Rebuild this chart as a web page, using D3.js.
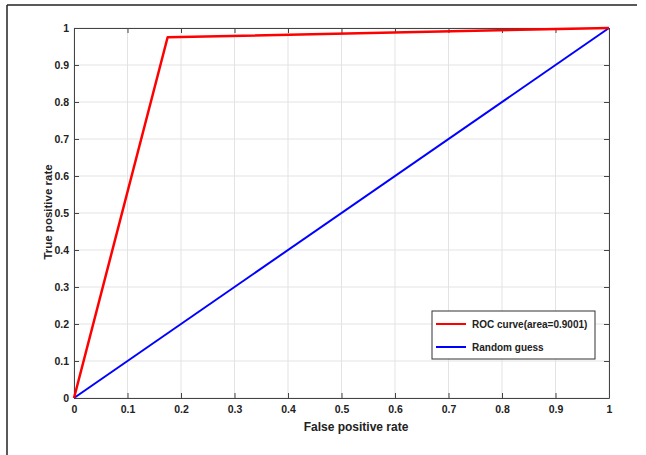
<!DOCTYPE html>
<html>
<head>
<meta charset="utf-8">
<script src="https://cdn.jsdelivr.net/npm/d3@7"></script>
<style>
  body { margin: 0; background: #fff; }
  text { font-family: "Liberation Sans", Arial, sans-serif; font-weight: bold; fill: #222; }
</style>
</head>
<body>
<script>
const rocFpr = [0, 0.175, 1];
const rocTpr = [0, 0.975, 1];
const guessFpr = [0, 1];
const guessTpr = [0, 1];
const tickValues = [0, 0.1, 0.2, 0.3, 0.4, 0.5, 0.6, 0.7, 0.8, 0.9, 1];
const legendLabels = ["ROC curve(area=0.9001)", "Random guess"];
const seriesColors = ["#ff0000", "#0000ff"];

const svg = d3.select('body')
  .append('svg')
  .attr('width', 646)
  .attr('height', 455)

// outer frame (top and left)
svg.append("line").attr("x1", 7).attr("x2", 637).attr("y1", 5).attr("y2", 5)
  .attr("stroke", "#222").attr("stroke-width", 1.5);
svg.append("line").attr("x1", 7).attr("x2", 7).attr("y1", 5).attr("y2", 455)
  .attr("stroke", "#222").attr("stroke-width", 1.5);

const plotLeft = 74, plotRight = 609, plotTop = 28, plotBottom = 398;

const x = d3.scaleLinear().domain([0, 1]).range([plotLeft, plotRight]);
const y = d3.scaleLinear().domain([0, 1]).range([plotBottom, plotTop]);

const fmt = d => d === 0 ? "0" : d === 1 ? "1" : d3.format(".1f")(d);

// grid
svg.append("g")
  .selectAll("line")
  .data(tickValues)
  .enter()
  .append("line")
  .attr("x1", d => x(d)).attr("x2", d => x(d))
  .attr("y1", plotTop).attr("y2", plotBottom)
  .attr("stroke", "#e3e3e3").attr("stroke-width", 1);
svg.append("g")
  .selectAll("line")
  .data(tickValues)
  .enter()
  .append("line")
  .attr("x1", plotLeft).attr("x2", plotRight)
  .attr("y1", d => y(d)).attr("y2", d => y(d))
  .attr("stroke", "#e3e3e3").attr("stroke-width", 1);

// axes with inward ticks
const styleAxis = g => {
  g.select(".domain").attr("stroke", "#444");
  g.selectAll(".tick line").attr("stroke", "#444");
  g.selectAll(".tick text").style("font-size", "10.5px").style("fill", "#222");
};

svg.append("g")
  .attr("transform", `translate(0,${plotBottom})`)
  .call(d3.axisBottom(x).tickValues(tickValues).tickFormat(fmt).tickSizeInner(-5).tickSizeOuter(0).tickPadding(8))
  .call(styleAxis);
svg.append("g")
  .attr("transform", `translate(0,${plotTop})`)
  .call(d3.axisTop(x).tickValues(tickValues).tickFormat("").tickSizeInner(-5).tickSizeOuter(0))
  .call(styleAxis);
svg.append("g")
  .attr("transform", `translate(${plotLeft},0)`)
  .call(d3.axisLeft(y).tickValues(tickValues).tickFormat(fmt).tickSizeInner(-5).tickSizeOuter(0).tickPadding(5))
  .call(styleAxis);
svg.append("g")
  .attr("transform", `translate(${plotRight},0)`)
  .call(d3.axisRight(y).tickValues(tickValues).tickFormat("").tickSizeInner(-5).tickSizeOuter(0))
  .call(styleAxis);

// curves
const line = d3.line().x(d => x(d[0])).y(d => y(d[1]));

svg.append("path")
  .datum(guessFpr.map((d, i) => [d, guessTpr[i]]))
  .attr("d", line)
  .attr("fill", "none")
  .attr("stroke", seriesColors[1])
  .attr("stroke-width", 2);

svg.append("path")
  .datum(rocFpr.map((d, i) => [d, rocTpr[i]]))
  .attr("d", line)
  .attr("fill", "none")
  .attr("stroke", seriesColors[0])
  .attr("stroke-width", 2.5)
  .attr("stroke-linejoin", "round");

// axis labels
svg.append("text")
  .attr("x", 356)
  .attr("y", 431)
  .attr("text-anchor", "middle")
  .style("font-size", "12px")
  .text("False positive rate");

svg.append("text")
  .attr("transform", "translate(52,212) rotate(-90)")
  .attr("text-anchor", "middle")
  .style("font-size", "11.5px")
  .text("True positive rate");

// legend
const legend = svg.append("g");
legend.append("rect")
  .attr("x", 432).attr("y", 311)
  .attr("width", 163).attr("height", 48)
  .attr("fill", "#fff")
  .attr("stroke", "#333")
  .attr("stroke-width", 1);

legend.selectAll("g.item")
  .data(legendLabels)
  .enter()
  .append("g")
  .attr("class", "item")
  .each(function(d, i) {
    const g = d3.select(this);
    const ly = 324 + i * 23;
    g.append("line")
      .attr("x1", 436).attr("x2", 466)
      .attr("y1", ly).attr("y2", ly)
      .attr("stroke", seriesColors[i])
      .attr("stroke-width", 2);
    g.append("text")
      .attr("x", 472)
      .attr("y", ly + 4)
      .style("font-size", "10px")
      .text(d);
  });
</script>
</body>
</html>
